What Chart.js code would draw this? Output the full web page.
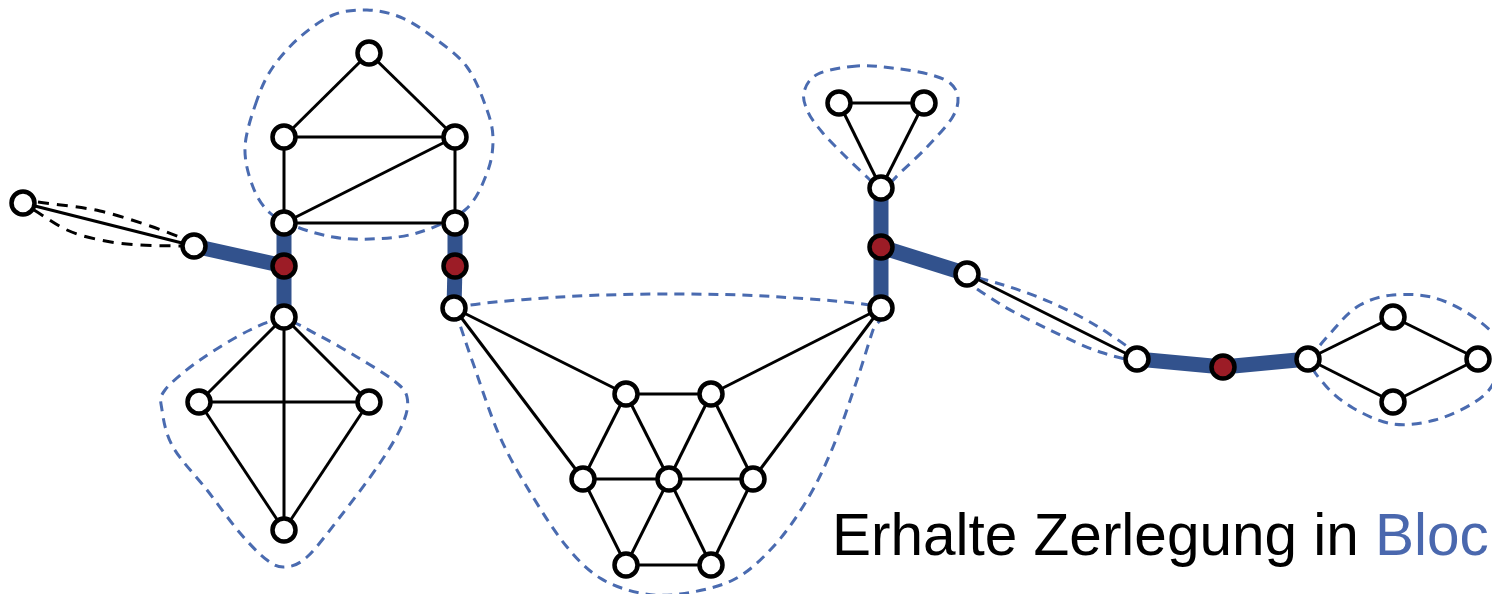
<!DOCTYPE html>
<html>
<head>
<meta charset="utf-8">
<script src="https://cdn.jsdelivr.net/npm/chart.js@4/dist/chart.umd.min.js"></script>
<style>
html,body{margin:0;padding:0;background:#fff;overflow:hidden;}
#wrap{width:1492px;height:594px;position:relative;}
</style>
</head>
<body>
<div id="wrap"><canvas id="c"></canvas></div>
<script>
// ---- data ----
const nodeX = [23,194,284,284,284,369,455,455,455,454,284,199,369,284,626,711,583,669,753,626,711,881,881,881,839,924,967,1137,1223,1308,1393,1478,1393];
const nodeY = [203,246,266,223,137,53,137,223,266,308,317,402,402,530,394,394,479,479,479,565,565,308,247,188,103,103,274,359,367,359,317,359,402];
const cutNodes = [2,8,22,28];
const thinEdges = [[0,1],[3,4],[4,5],[5,6],[4,6],[3,6],[3,7],[6,7],
  [10,11],[10,12],[10,13],[11,12],[11,13],[12,13],
  [9,14],[9,16],[21,15],[21,18],
  [14,15],[14,16],[14,17],[15,17],[15,18],[16,17],[17,18],[16,19],[17,19],[17,20],[18,20],[19,20],
  [23,24],[23,25],[24,25],[26,27],[29,30],[29,32],[30,31],[32,31]];
const bridgeEdges = [[1,2],[2,3],[2,10],[7,8],[8,9],[21,22],[22,23],[22,26],[27,28],[28,29]];
const blobHouse = [[257,100],[245,147],[253,187],[270,213],[297,227],[333,237],[370,239],[417,233],[465,210],[487,173],[493,140],[487,110],[467,67],[433,37],[400,17],[367,10],[333,15],[300,37],[273,67]];
const blobK4 = [[284,320],[250,330],[200,360],[165,390],[162,410],[173,447],[207,490],[240,533],[267,560],[285,567],[307,557],[340,517],[380,463],[403,423],[407,397],[393,380],[357,357],[318,335]];
const blobMesh = [[454,308],[560,297],[673,294],[780,297],[882,308],[873,330],[857,380],[833,447],[807,500],[773,547],[733,580],[680,594],[640,593],[600,578],[567,547],[533,497],[500,437],[473,363],[460,325]];
const blobTri = [[857,66],[818,74],[804,92],[808,112],[822,132],[843,154],[868,178],[881,190],[900,173],[928,146],[952,118],[958,98],[950,83],[928,74],[892,68]];
const blobPath = [[962,276],[1000,284],[1050,302],[1100,328],[1142,360],[1100,352],[1050,330],[1000,304]];
const blobDiamond = [[1312,360],[1335,328],[1360,305],[1393,295],[1435,298],[1475,318],[1500,345],[1495,380],[1475,402],[1435,420],[1393,424],[1353,408],[1325,385]];
const blobBlue = [blobHouse, blobK4, blobMesh, blobTri, blobPath, blobDiamond];
const blackUpper = [[38,202],[100,211],[150,226],[182,238]];
const blackLower = [[34,210],[67,230],[100,240],[140,245],[182,246]];
const label1 = "Erhalte Zerlegung in ";
const label2 = "Bloc";

// ---- build datasets ----
const datasets = [];
function pt(i){ return {x: nodeX[i], y: nodeY[i]}; }
datasets.push({
  type:'scatter', data: nodeX.map((_,i)=>pt(i)),
  pointRadius: 11.5, pointHoverRadius: 11.5, pointBorderWidth: 4.5, pointHoverBorderWidth: 4.5,
  pointBorderColor:'#000', pointBackgroundColor: nodeX.map((_,i)=>cutNodes.includes(i)?'#9c1c26':'#ffffff'),
  showLine:false, clip:false, order:0
});
bridgeEdges.forEach(e=>datasets.push({
  type:'line', data:[pt(e[0]),pt(e[1])], borderColor:'#32528d', borderWidth:15,
  pointRadius:0, clip:false, order:1, borderCapStyle:'butt'
}));
thinEdges.forEach(e=>datasets.push({
  type:'line', data:[pt(e[0]),pt(e[1])], borderColor:'#000', borderWidth:3,
  pointRadius:0, clip:false, order:2
}));
[blackUpper, blackLower].forEach(c=>datasets.push({
  type:'line', data:c.map(p=>({x:p[0],y:p[1]})), borderColor:'#000', borderWidth:3,
  borderDash:[11,8], tension:0.4, cubicInterpolationMode:'monotone', pointRadius:0, clip:false, order:3
}));

const blobPlugin = {
  id:'blobs',
  beforeDatasetsDraw(chart){
    const ctx = chart.ctx, xs = chart.scales.x, ys = chart.scales.y;
    ctx.save();
    ctx.strokeStyle = '#4a6bb0'; ctx.lineWidth = 3; ctx.setLineDash([10,7]);
    blobBlue.forEach(b=>{
      const p = b.map(q=>[xs.getPixelForValue(q[0]), ys.getPixelForValue(q[1])]);
      const n = p.length;
      ctx.beginPath();
      ctx.moveTo(p[0][0], p[0][1]);
      for(let i=0;i<n;i++){
        const p0=p[(i-1+n)%n], p1=p[i], p2=p[(i+1)%n], p3=p[(i+2)%n];
        const c1x=p1[0]+(p2[0]-p0[0])/6, c1y=p1[1]+(p2[1]-p0[1])/6;
        const c2x=p2[0]-(p3[0]-p1[0])/6, c2y=p2[1]-(p3[1]-p1[1])/6;
        ctx.bezierCurveTo(c1x,c1y,c2x,c2y,p2[0],p2[1]);
      }
      ctx.closePath();
      ctx.stroke();
    });
    ctx.restore();
  },
  afterDraw(chart){
    const ctx = chart.ctx, xs = chart.scales.x, ys = chart.scales.y;
    ctx.save();
    ctx.setLineDash([]);
    ctx.font = '58.5px "Liberation Sans", Arial, sans-serif';
    ctx.textBaseline = 'alphabetic';
    const x0 = xs.getPixelForValue(832), y0 = ys.getPixelForValue(555);
    ctx.fillStyle = '#000';
    ctx.fillText(label1, x0, y0);
    const w = ctx.measureText(label1).width;
    ctx.fillStyle = '#4a68ae';
    ctx.fillText(label2, x0 + w, y0);
    ctx.restore();
  }
};

new Chart(document.getElementById('c'), {
  type:'scatter',
  data:{datasets},
  options:{
    responsive:true, maintainAspectRatio:false, animation:false,
    layout:{padding:0, autoPadding:false},
    events:[],
    plugins:{legend:{display:false}, tooltip:{enabled:false}, title:{display:false}},
    scales:{
      x:{type:'linear', min:0, max:1492, display:false},
      y:{type:'linear', min:0, max:594, reverse:true, display:false}
    }
  },
  plugins:[blobPlugin]
});
</script>
</body>
</html>
